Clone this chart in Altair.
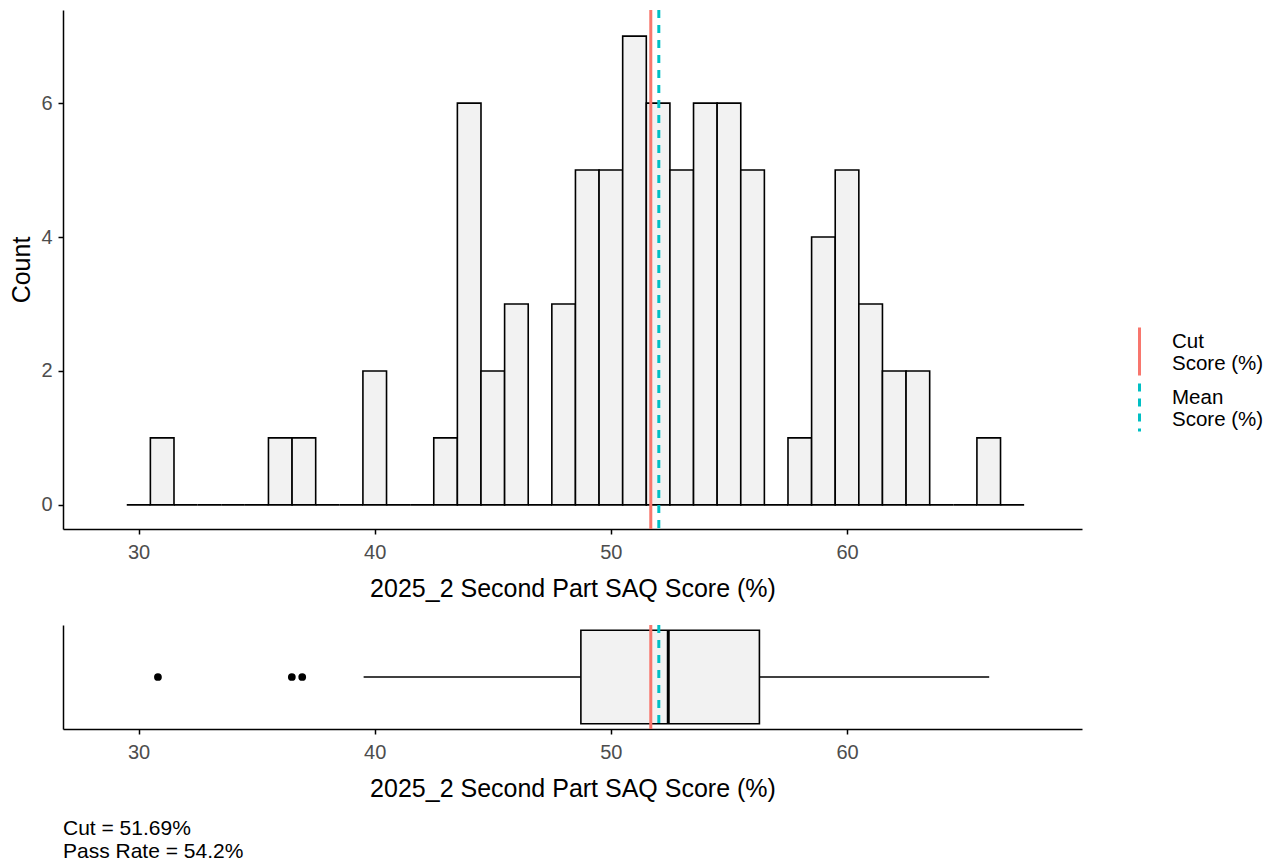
import altair as alt
import pandas as pd

# ---------------- data ----------------
bin_centers = [30, 31, 32, 33, 34, 35, 36, 37, 38, 39, 40, 41, 42, 43, 44, 45, 46, 47, 48,
               49, 50, 51, 52, 53, 54, 55, 56, 57, 58, 59, 60, 61, 62, 63, 64, 65, 66, 67]
counts = [0, 1, 0, 0, 0, 0, 1, 1, 0, 0, 2, 0, 0, 1, 6, 2, 3, 0, 3,
          5, 5, 7, 6, 5, 6, 6, 5, 0, 1, 4, 5, 3, 2, 2, 0, 0, 1, 0]

line_names = ["Cut Score (%)", "Mean Score (%)"]
line_values = [51.69, 52.03]
line_colors = ["#F8766D", "#00BFC4"]

box_q1 = [48.73]
box_median = [52.43]
box_q3 = [56.29]
whisker_low = [39.53]
whisker_high = [66.02]
outliers = [30.82, 36.49, 36.93]

x_ticks = [30, 40, 50, 60]
y_ticks = [0, 2, 4, 6]
x_title = "2025_2 Second Part SAQ Score (%)"
caption = ["Cut = 51.69%", "Pass Rate = 54.2%"]

# ---------------- tables ----------------
hist_df = pd.DataFrame({"center": bin_centers, "count": counts})
lines_df = pd.DataFrame({"name": line_names, "value": line_values})
box_df = pd.DataFrame({"q1": box_q1, "median": box_median, "q3": box_q3,
                       "low": whisker_low, "high": whisker_high})
out_df = pd.DataFrame({"value": outliers})

FONT = "Liberation Sans"
xscale = alt.Scale(domain=[26.8, 69.95], nice=False, zero=False)


def x_axis():
    return alt.Axis(values=x_ticks, title=x_title, grid=False, tickSize=5,
                    labelPadding=8, titlePadding=14)


color_scale = alt.Scale(domain=line_names, range=line_colors)
dash_scale = alt.Scale(domain=line_names, range=[[1, 0], [8, 7]])

label_expr = ("[slice(datum.label, 0, indexof(datum.label, ' ')), "
              "slice(datum.label, indexof(datum.label, ' ') + 1)]")


def make_legend():
    return alt.Legend(title=None, orient="none", legendX=1051, legendY=316,
                      symbolType="M0,-1L0,1", symbolSize=2304, symbolStrokeWidth=3,
                      labelFontSize=20.5, labelColor="black", labelFont=FONT,
                      labelOffset=7, labelExpr=label_expr, labelBaseline="bottom",
                      rowPadding=-10, padding=0, labelLimit=400)


# ---------------- top: histogram ----------------
yscale = alt.Scale(domain=[-0.36, 7.39], nice=False, zero=False)
bars = alt.Chart(hist_df).transform_calculate(
    lo="datum.center - 0.5", hi="datum.center + 0.5"
).mark_rect(fill="#F2F2F2", stroke="black", strokeWidth=1.6).encode(
    x=alt.X("lo:Q", scale=xscale, axis=x_axis()),
    x2="hi:Q",
    y=alt.Y("count:Q", scale=yscale,
            axis=alt.Axis(values=y_ticks, title="Count", format="d", grid=False,
                          tickSize=5, labelPadding=6, titlePadding=6)),
    y2=alt.datum(0),
)

rules_top = alt.Chart(lines_df).mark_rule(strokeWidth=3).encode(
    x=alt.X("value:Q", scale=xscale, axis=x_axis()),
    color=alt.Color("name:N", scale=color_scale, legend=make_legend()),
    strokeDash=alt.StrokeDash("name:N", scale=dash_scale, legend=make_legend()),
)

top = alt.layer(bars, rules_top).properties(width=1019, height=519)

# ---------------- bottom: boxplot ----------------
ybox = alt.Scale(domain=[0, 1], nice=False, zero=False)
ybox_axis = alt.Axis(title=None, labels=False, ticks=False, grid=False)

whisk_left = alt.Chart(box_df).mark_rule(color="black", strokeWidth=1.6).encode(
    x=alt.X("low:Q", scale=xscale, axis=x_axis()),
    x2="q1:Q",
    y=alt.YDatum(0.5, type="quantitative", scale=ybox, axis=ybox_axis),
)
whisk_right = alt.Chart(box_df).mark_rule(color="black", strokeWidth=1.6).encode(
    x=alt.X("q3:Q", scale=xscale, axis=x_axis()),
    x2="high:Q",
    y=alt.YDatum(0.5, type="quantitative", scale=ybox, axis=ybox_axis),
)
box = alt.Chart(box_df).mark_rect(fill="#F2F2F2", stroke="black", strokeWidth=1.6).encode(
    x=alt.X("q1:Q", scale=xscale, axis=x_axis()),
    x2="q3:Q",
    y=alt.YDatum(0.05, type="quantitative", scale=ybox, axis=ybox_axis),
    y2=alt.datum(0.95),
)
median = alt.Chart(box_df).mark_rule(color="black", strokeWidth=3).encode(
    x=alt.X("median:Q", scale=xscale, axis=x_axis()),
    y=alt.YDatum(0.05, type="quantitative", scale=ybox, axis=ybox_axis),
    y2=alt.datum(0.95),
)
points = alt.Chart(out_df).mark_circle(size=60, color="black", opacity=1).encode(
    x=alt.X("value:Q", scale=xscale, axis=x_axis()),
    y=alt.YDatum(0.5, type="quantitative", scale=ybox, axis=ybox_axis),
)
rules_bot = alt.Chart(lines_df).mark_rule(strokeWidth=3).encode(
    x=alt.X("value:Q", scale=xscale, axis=x_axis()),
    color=alt.Color("name:N", scale=color_scale, legend=None),
    strokeDash=alt.StrokeDash("name:N", scale=dash_scale, legend=None),
)

bottom = alt.layer(whisk_left, whisk_right, box, median, points, rules_bot).properties(
    width=1019, height=104,
    title=alt.TitleParams(text=caption, orient="bottom", anchor="start", fontSize=21,
                          fontWeight="normal", color="black", font=FONT,
                          lineHeight=23, offset=17),
)

chart = alt.vconcat(top, bottom, spacing=22).resolve_scale(
    color="independent", strokeDash="independent"
).properties(
    padding={"left": 1, "top": 0, "right": 0, "bottom": 0}
).configure(font=FONT).configure_view(stroke=None).configure_axis(
    domainColor="black", domainWidth=1.5, tickColor="black", tickWidth=1.5,
    labelColor="#4D4D4D", labelFontSize=20, titleFontSize=25,
    titleFontWeight="normal", titleColor="black", labelFont=FONT, titleFont=FONT,
)

chart.save("out.html", embed_options={"renderer": "svg", "actions": False})
